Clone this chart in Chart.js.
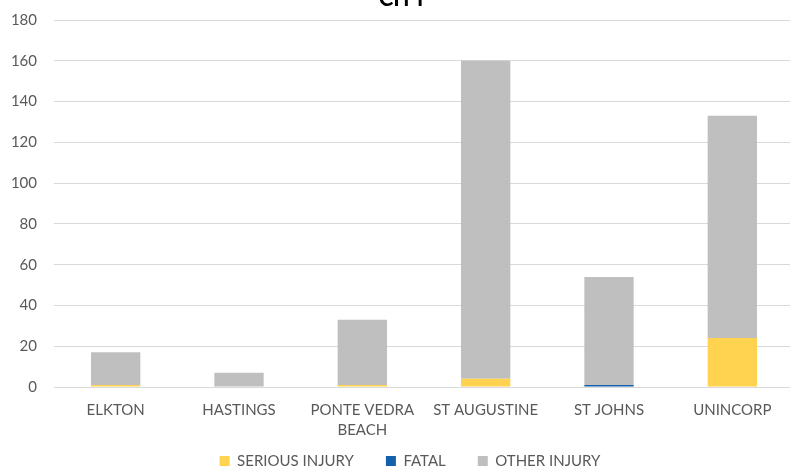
<!DOCTYPE html>
<html>
<head>
<meta charset="utf-8">
<script src="https://cdn.jsdelivr.net/npm/chart.js@4"></script>
<style>
  html, body { margin: 0; padding: 0; background: #fff; }
  #wrap { position: relative; width: 790px; height: 468px; overflow: hidden; background: #fff; }
  #box { position: absolute; left: 0; top: -30px; width: 800px; height: 500px; }
</style>
</head>
<body>
<div id="wrap"><div id="box"><canvas id="c"></canvas></div></div>
<script>
const categories = ['ELKTON', 'HASTINGS', ['PONTE VEDRA', 'BEACH'], 'ST AUGUSTINE', 'ST JOHNS', 'UNINCORP'];
const seriousInjury = [1, 0, 1, 4, 0, 24];
const fatal = [0, 0, 0, 0, 1, 0];
const otherInjury = [16, 7, 32, 156, 53, 109];
const yTicks = [0, 20, 40, 60, 80, 100, 120, 140, 160, 180];
const titleText = 'CITY';
const seriesNames = ['SERIOUS INJURY', 'FATAL', 'OTHER INJURY'];

const FONT = 'Lato, "Open Sans", sans-serif';
const TXT = '#595959';
const GRID = '#D9D9D9';
const LEG_PAD = 32;

const tweak = {
  id: 'tweak',
  beforeLayout(chart) {
    const lg = chart.legend;
    if (lg && !lg._patched) {
      const f = lg.fit;
      lg.fit = function () { f.call(this); this.height = 33; };
      lg._patched = true;
    }
  },
  afterLayout(chart) {
    const lg = chart.legend;
    if (lg) {
      lg.top = 483.5 - LEG_PAD; lg.bottom = lg.top + 80; lg.height = 80;
      lg.left += 13; lg.right += 13;
    }
    const t = chart.titleBlock;
    if (t) { t.left += 6; t.right += 6; }
  }
};

new Chart(document.getElementById('c'), {
  type: 'bar',
  data: {
    labels: categories,
    datasets: [
      { label: seriesNames[0], data: seriousInjury, backgroundColor: '#FFD24F', borderWidth: 0 },
      { label: seriesNames[1], data: fatal, backgroundColor: '#1560AC', borderWidth: 0 },
      { label: seriesNames[2], data: otherInjury, backgroundColor: '#BFBFBF', borderWidth: 0 }
    ]
  },
  options: {
    responsive: true,
    maintainAspectRatio: false,
    animation: false,
    devicePixelRatio: 1,
    datasets: { bar: { categoryPercentage: 1, barPercentage: 0.4 } },
    layout: { padding: { left: 0, right: 6, top: 0, bottom: 0 } },
    plugins: {
      title: {
        display: true, text: titleText, color: '#000',
        font: { family: FONT, size: 22, weight: 'bold', lineHeight: 1.2 },
        padding: { top: 16, bottom: 7.6 }
      },
      legend: {
        position: 'bottom',
        labels: {
          boxWidth: 10, boxHeight: 10, padding: LEG_PAD, color: TXT,
          font: { family: FONT, size: 15 }
        }
      },
      tooltip: { enabled: false }
    },
    scales: {
      x: {
        stacked: true,
        grid: { display: false, drawTicks: false },
        border: { display: true, color: GRID, width: 1 },
        ticks: { color: TXT, font: { family: FONT, size: 15, lineHeight: 1.33 }, padding: 13, maxRotation: 0, autoSkip: false },
        afterFit(s) { s.height = 50; }
      },
      y: {
        stacked: true,
        min: 0, max: 180,
        afterBuildTicks(s) { s.ticks = yTicks.map(v => ({ value: v })); },
        grid: { color: GRID, lineWidth: 1, drawTicks: false },
        border: { display: false },
        ticks: { color: TXT, font: { family: FONT, size: 15 }, padding: 17 },
        afterFit(s) { s.width = 54; }
      }
    }
  },
  plugins: [tweak]
});
</script>
</body>
</html>
